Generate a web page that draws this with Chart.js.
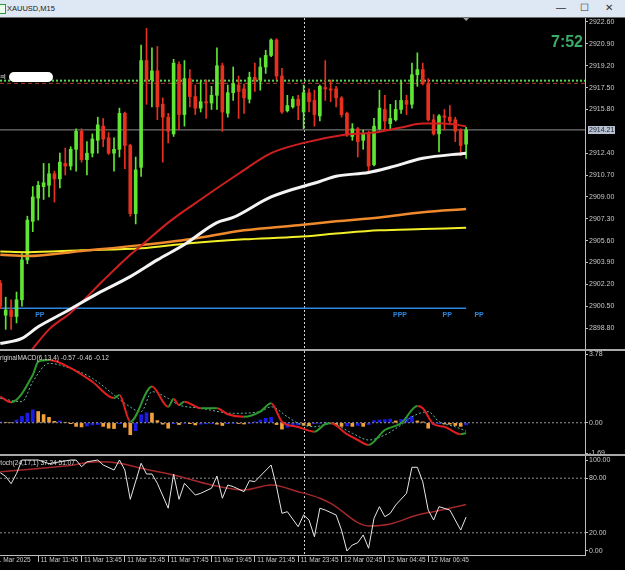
<!DOCTYPE html>
<html>
<head>
<meta charset="utf-8">
<script src="https://cdn.jsdelivr.net/npm/chart.js@4.4.1/dist/chart.umd.min.js"></script>
<style>
  html, body { margin: 0; padding: 0; background: #000; }
  #wrap { position: relative; width: 625px; height: 570px; overflow: hidden; background: #000; }
  #title { position: absolute; left: 0; top: 0; width: 625px; height: 17px; background: #dde8f4;
           font: 7.5px "Liberation Sans", sans-serif; color: #1a1a1a; }
  #title .icon { position: absolute; left: -2px; top: 4px; width: 6px; height: 8px; border: 1px solid #2a9a3a; background: #eaffea; }
  #title .name { position: absolute; left: 7px; top: 4px; }
  #title .btn { position: absolute; top: 2px; font-size: 10px; color: #333; }
  .sep { position: absolute; left: 0; width: 625px; background: #a9a9a9; z-index: 5; }
  canvas { position: absolute; left: 0; }
</style>
</head>
<body>
<div id="wrap">
  <div id="title"><div class="icon"></div><div class="name">XAUUSD,M15</div>
    <div class="btn" style="left:556px">&#8212;</div>
    <div class="btn" style="left:580px">&#9744;</div>
    <div class="btn" style="left:605px">&#10005;</div>
  </div>
  <div class="sep" style="top:17px;height:1px;background:#6f6f6f"></div>
  <canvas id="price" width="625" height="331" style="top:18px"></canvas>
  <div class="sep" style="top:349px;height:2px"></div>
  <canvas id="macd" width="625" height="103" style="top:351px"></canvas>
  <div class="sep" style="top:454px;height:2px"></div>
  <canvas id="stoch" width="625" height="114" style="top:456px"></canvas>
</div>
<script>
// XAUUSD M15, 11 Mar 10:00 .. 12 Mar 08:30 (bar index 0..86)
const opens = [
  2902.3, 2899.8, 2900.2, 2899.7, 2901.0, 2904.1, 2907.1, 2908.9, 2909.8, 2909.9,
  2910.8, 2910.4, 2911.6, 2911.4, 2912.7, 2914.1, 2911.9, 2912.4, 2913.4, 2914.5,
  2913.6, 2912.4, 2912.7, 2915.5, 2913.0, 2907.7, 2911.3, 2919.6, 2918.1, 2918.8,
  2916.2, 2915.2, 2913.9, 2919.3, 2915.4, 2918.2, 2916.8, 2915.9, 2916.4, 2916.3,
  2916.9, 2919.2, 2915.5, 2917.1, 2917.7, 2917.4, 2916.6, 2918.3, 2918.1, 2919.1,
  2920.0, 2921.2, 2918.4, 2915.7, 2916.0, 2916.6, 2915.6, 2917.1, 2916.5, 2915.3,
  2917.5, 2917.4, 2917.4, 2916.7, 2915.5, 2913.7, 2914.3, 2913.4, 2913.9, 2911.5,
  2914.3, 2915.8, 2914.7, 2915.0, 2915.8, 2916.5, 2916.2, 2918.5, 2918.9, 2917.8,
  2915.0, 2913.9, 2915.3, 2915.2, 2915.0, 2914.2, 2913.1
];
const highs = [
  2902.5, 2901.2, 2901.0, 2901.6, 2904.6, 2907.5, 2909.8, 2910.2, 2911.6, 2911.6,
  2911.0, 2912.4, 2912.8, 2912.9, 2914.3, 2914.3, 2913.3, 2913.9, 2915.2, 2915.1,
  2914.0, 2913.6, 2915.9, 2915.6, 2913.1, 2912.1, 2920.8, 2922.1, 2920.6, 2920.7,
  2916.7, 2915.5, 2919.7, 2919.5, 2919.6, 2918.9, 2917.7, 2918.0, 2918.1, 2917.6,
  2920.6, 2919.4, 2917.7, 2919.1, 2918.4, 2917.8, 2918.7, 2919.4, 2919.8, 2920.4,
  2921.3, 2921.3, 2919.0, 2916.9, 2916.8, 2916.9, 2917.7, 2917.4, 2917.3, 2917.7,
  2919.6, 2918.1, 2917.6, 2916.8, 2915.6, 2914.7, 2914.4, 2914.2, 2914.1, 2915.1,
  2917.3, 2916.9, 2916.2, 2916.5, 2918.0, 2916.9, 2919.4, 2920.2, 2919.4, 2918.2,
  2915.4, 2915.4, 2915.8, 2916.1, 2915.2, 2914.3, 2914.4
];
const lows = [
  2900.3, 2898.7, 2898.7, 2899.2, 2900.5, 2903.8, 2906.3, 2907.2, 2908.8, 2909.0,
  2908.6, 2909.7, 2910.7, 2911.1, 2911.0, 2911.7, 2910.7, 2912.1, 2912.4, 2912.9,
  2912.3, 2911.0, 2912.1, 2911.2, 2907.5, 2906.9, 2910.6, 2916.2, 2916.0, 2915.0,
  2911.7, 2913.2, 2913.7, 2914.2, 2914.5, 2916.0, 2915.4, 2915.6, 2915.1, 2915.8,
  2915.8, 2914.1, 2915.2, 2916.5, 2915.1, 2915.5, 2916.3, 2917.2, 2917.3, 2918.6,
  2919.9, 2918.1, 2915.5, 2915.6, 2915.9, 2915.0, 2914.3, 2915.6, 2914.5, 2914.9,
  2916.5, 2916.4, 2916.0, 2915.2, 2913.7, 2913.4, 2912.1, 2912.7, 2910.8, 2911.4,
  2914.2, 2914.2, 2914.2, 2914.9, 2915.5, 2915.4, 2915.9, 2917.6, 2917.7, 2914.9,
  2913.8, 2912.5, 2914.2, 2914.6, 2913.3, 2912.2, 2912.0
];
const closes = [
  2900.5, 2900.2, 2899.7, 2901.0, 2904.1, 2907.2, 2909.0, 2909.9, 2910.1, 2910.8,
  2910.4, 2911.7, 2911.4, 2912.7, 2914.1, 2911.9, 2912.4, 2913.5, 2914.6, 2913.5,
  2912.4, 2912.7, 2915.5, 2913.0, 2907.7, 2911.1, 2919.6, 2918.1, 2918.8, 2916.0,
  2915.2, 2914.1, 2919.4, 2915.4, 2918.2, 2916.8, 2915.9, 2916.4, 2916.3, 2916.9,
  2919.2, 2915.6, 2917.1, 2917.8, 2917.2, 2916.7, 2918.3, 2918.1, 2919.1, 2920.0,
  2921.2, 2918.4, 2915.6, 2916.1, 2916.6, 2916.1, 2917.1, 2916.4, 2915.4, 2917.6,
  2917.4, 2917.3, 2916.7, 2915.4, 2913.8, 2914.3, 2913.3, 2913.9, 2911.4, 2914.5,
  2915.9, 2914.9, 2915.1, 2915.8, 2916.5, 2916.2, 2918.5, 2918.9, 2917.8, 2915.0,
  2913.9, 2915.3, 2915.2, 2914.9, 2914.1, 2913.0, 2914.21
];

// moving averages, read at [bar index, price]
const maRed = [[0, 2894.5], [3, 2895.8], [6, 2897.2], [9, 2898.7], [13, 2900.0], [19, 2902.5], [24, 2904.5],
  [26, 2905.2], [31, 2907.0], [37, 2908.8], [44, 2910.8], [50, 2912.4], [56, 2913.2], [63, 2913.8],
  [69, 2914.0], [74, 2914.4], [78, 2914.7], [82, 2914.7], [86, 2914.5]];
const maWhite = [[0, 2897.6], [4, 2898.0], [7, 2898.9], [12, 2900.05], [18, 2901.5], [24, 2902.8], [29, 2904.1],
  [34, 2905.3], [40, 2907.0], [43, 2907.4], [50, 2909.0], [59, 2910.2], [62, 2910.6], [68, 2910.9],
  [72, 2911.3], [78, 2912.0], [86, 2912.4]];
const maOrange = [[0, 2904.5], [5, 2904.4], [15, 2904.8], [26, 2905.25], [35, 2905.7], [45, 2906.4], [55, 2906.8],
  [62, 2907.1], [70, 2907.4], [78, 2907.8], [86, 2908.05]];
const maYellow = [[0, 2904.75], [5, 2904.7], [15, 2904.85], [26, 2905.0], [35, 2905.4], [45, 2905.7], [55, 2905.9],
  [62, 2906.15], [70, 2906.4], [78, 2906.5], [86, 2906.6]];

// OriginalMACD(6,13,4)
const macdLine = [[0, 1.44], [2, 1.13], [6, 2.63], [7, 3.36], [9, 3.45], [13, 3.01], [17, 2.26], [21, 1.36],
  [22, 1.53], [24, 0.06], [28, 1.99], [31, 0.88], [32, 1.31], [33, 0.98], [34, 1.16], [37, 0.8], [40, 0.8],
  [42, 0.47], [45, 0.33], [48, 0.61], [50, 1.07], [52, 0.06], [55, -0.23], [58, -0.49], [60, -0.07],
  [61, -0.03], [64, -0.63], [66, -0.95], [68, -1.22], [71, -0.4], [74, -0.03], [77, 0.92], [78, 0.8],
  [80, -0.08], [82, -0.22], [85, -0.63], [86, -0.57]];
const macdSignal = [[0, 1.34], [4, 1.16], [6, 2.26], [9, 3.27], [12, 3.09], [17, 2.45], [21, 1.53], [23, 1.07],
  [26, 0.61], [28, 1.71], [31, 1.34], [33, 0.98], [37, 0.8], [43, 0.52], [48, 0.61], [50, 0.88], [53, 0.33],
  [55, -0.03], [58, -0.22], [61, -0.05], [65, -0.58], [68, -0.95], [71, -0.67], [74, -0.12], [76, 0.33],
  [79, 0.61], [81, 0.06], [84, -0.22], [86, -0.46]];
const macdHist = [
  0.05, 0.02, 0.00, 0.15, 0.35, 0.53, 0.71, 0.62, 0.45, 0.30,
  0.08, 0.10, 0.02, -0.05, -0.20, -0.23, -0.18, -0.12, -0.10, -0.20,
  -0.30, -0.32, -0.05, -0.25, -0.66, -0.44, 0.44, 0.55, 0.53, 0.12,
  -0.08, -0.30, -0.05, -0.10, -0.02, -0.05, -0.12, -0.08, -0.06, -0.04,
  -0.08, -0.15, -0.05, -0.02, -0.04, -0.07, -0.02, 0.05, 0.15, 0.25,
  0.30, -0.10, -0.35, -0.25, -0.20, -0.12, -0.14, -0.16, -0.05, -0.02,
  0.02, -0.05, -0.10, -0.20, -0.18, -0.20, -0.15, -0.20, -0.10, 0.12,
  0.15, 0.17, 0.20, 0.10, 0.18, 0.30, 0.35, 0.10, 0.05, -0.30,
  -0.10, -0.05, -0.07, -0.08, -0.15, -0.20, -0.12
];

// Stoch(24,17,1)
const stochK = [[0, 86], [1, 82], [2, 74], [3, 85], [4, 100], [7, 100], [9, 96], [11, 98], [13, 100], [14, 100],
  [15, 92.6], [16, 98], [18, 100], [19, 94.5], [21, 89], [22, 100], [23, 89], [24, 56.8], [26, 96.4],
  [27, 84.6], [28, 84.6], [29, 74.4], [31, 47], [32, 84.6], [33, 56.8], [34, 74.4], [36, 61.5], [37, 63.4],
  [39, 69], [40, 82.4], [41, 58], [42, 72.5], [43, 70.7], [45, 65.2], [46, 77.3], [47, 76.2], [48, 82.4],
  [50, 94.5], [51, 70.7], [52, 41.4], [53, 43.2], [55, 26.7], [56, 39.6], [57, 34], [58, 15.7], [59, 47],
  [60, 45], [62, 39.6], [63, 23], [64, 0], [65, 6.6], [66, 9.1], [67, 17.6], [68, 3], [69, 36], [70, 48.7],
  [71, 37.7], [72, 41.4], [73, 50.5], [75, 63.4], [76, 92], [77, 92], [78, 76], [79, 45], [80, 34],
  [81, 48.7], [83, 45], [85, 23], [86, 37.24]];
const stochD = [[0, 87], [12, 93.4], [18, 98], [22, 96.4], [26, 91], [32, 83.5], [39, 72.5], [45, 67], [50, 72.5],
  [55, 65.2], [59, 58], [61, 52.4], [68, 27.5], [72, 29.7], [77, 39.6], [80, 43.2], [86, 51.07]];

// axes / tick labels
const priceTicks = [2898.8, 2900.5, 2902.2, 2903.9, 2905.6, 2907.3, 2909.0, 2910.7, 2912.4,
  2915.8, 2917.5, 2919.2, 2920.9, 2922.6];
const macdTicks = [-1.69, 0, 3.78];
const stochTicks = [0, 20, 80, 100];
const timeTickIdx = [-1.5, 7, 15, 23, 31, 39, 47, 55, 63, 71, 79];
const timeTickText = ['11 Mar 2025', '11 Mar 11:45', '11 Mar 13:45', '11 Mar 15:45', '11 Mar 17:45',
  '11 Mar 19:45', '11 Mar 21:45', '11 Mar 23:45', '12 Mar 02:45', '12 Mar 04:45', '12 Mar 06:45'];

// levels and labels
const bidPrice = 2914.21;
const pivotLevel = 2900.35;
const greenLevel = 2918.04;
const redLevel = 2917.83;
const pivotTags = [[7.3, 'PP'], [73.8, 'PPP'], [82.5, 'PP'], [88.4, 'PP']];
const daySeparator = 56;
const timeLeft = '7:52';
const macdTitle = 'OriginalMACD(6,13,4) -0.57 -0.46 -0.12';
const stochTitle = 'Stoch(24,17,1) 37.24 51.07';

const xMin = -0.05, xMax = 107.95;
const lastBar = closes.length - 1;
const axisColor = '#bdbdbd';
const font = '"Liberation Sans", sans-serif';

Chart.defaults.font.family = font;
Chart.defaults.color = '#c8c8c8';

function pts(list) { return list.map(p => ({x: p[0], y: p[1]})); }

function lineSet(list, color, width, extra) {
  return Object.assign({
    type: 'line', data: pts(list), borderColor: color, borderWidth: width,
    pointRadius: 0, fill: false, tension: 0.3, cubicInterpolationMode: 'monotone'
  }, extra || {});
}

function levelSet(level, from, to, color, width, dash) {
  return {type: 'line', data: [{x: from, y: level}, {x: to, y: level}], borderColor: color,
    borderWidth: width, borderDash: dash, pointRadius: 0, fill: false};
}

function yAxis(min, max, ticks) {
  return {
    type: 'linear', position: 'right', min: min, max: max,
    afterBuildTicks: ax => { ax.ticks = ticks.map(v => ({value: v})); },
    afterFit: ax => { ax.width = 40; ax.paddingTop = 0; ax.paddingBottom = 0; },
    border: {color: axisColor, width: 1},
    grid: {drawOnChartArea: false, color: axisColor, tickLength: 3},
    ticks: {color: '#c8c8c8', font: {size: 7}, padding: 1, autoSkip: false, callback: v => v.toFixed(2)}
  };
}

// bar datasets would switch the x scale to offset mode, keep it flat
const hiddenX = {type: 'linear', min: xMin, max: xMax, offset: false, grid: {offset: false}, display: false};

const daySep = {
  id: 'daySep',
  beforeDatasetsDraw(chart) {
    const {ctx, chartArea: a, scales: {x}} = chart;
    const px = Math.round(x.getPixelForValue(daySeparator)) + 0.5;
    ctx.save();
    ctx.strokeStyle = '#d0d0d0'; ctx.lineWidth = 1; ctx.setLineDash([2, 2]);
    ctx.beginPath(); ctx.moveTo(px, a.top); ctx.lineTo(px, a.bottom); ctx.stroke();
    ctx.restore();
  }
};

function titlePlugin(text, x0) {
  return {
    id: 'paneTitle',
    afterDraw(chart) {
      const ctx = chart.ctx;
      ctx.save();
      ctx.fillStyle = '#d8d8d8'; ctx.font = '6.5px ' + font;
      ctx.textBaseline = 'middle'; ctx.textAlign = 'left';
      ctx.fillText(text, x0, chart.chartArea.top + 7);
      ctx.restore();
    }
  };
}

const priceExtras = {
  id: 'priceExtras',
  afterDatasetsDraw(chart) {
    const {ctx, chartArea: a, scales: {x, y}} = chart;
    ctx.save();
    // pivot tags under the pivot line
    ctx.fillStyle = '#2f86e0'; ctx.font = 'bold 7px ' + font;
    ctx.textAlign = 'center'; ctx.textBaseline = 'middle';
    const ty = y.getPixelForValue(pivotLevel) + 7;
    pivotTags.forEach(t => ctx.fillText(t[1], x.getPixelForValue(t[0]), ty));
    // bar timer
    ctx.fillStyle = '#3dab68'; ctx.font = 'bold 16px ' + font;
    ctx.textAlign = 'right'; ctx.textBaseline = 'alphabetic';
    ctx.fillText(timeLeft, a.right - 2, 29);
    // hidden (blurred) label top-left
    ctx.fillStyle = '#e8e8e8'; ctx.font = '7px ' + font; ctx.textAlign = 'left'; ctx.textBaseline = 'middle';
    ctx.fillText('\u2261l', 0, 59);
    ctx.fillStyle = '#ffffff';
    ctx.beginPath(); ctx.roundRect(9, 54, 44, 10, 5); ctx.fill();
    ctx.restore();
  },
  afterDraw(chart) {
    const {ctx, chartArea: a, scales: {x, y}} = chart;
    ctx.save();
    // bid price box on the axis
    const by = Math.round(y.getPixelForValue(bidPrice));
    ctx.fillStyle = '#b7c1d1';
    ctx.fillRect(a.right + 3, by - 4, 27, 8);
    ctx.fillStyle = '#1b2230'; ctx.font = '7px ' + font; ctx.textBaseline = 'middle';
    ctx.fillText(bidPrice.toFixed(2), a.right + 4, by);
    // chart shift marker
    const mx = x.getPixelForValue(lastBar);
    ctx.fillStyle = '#9c9c9c';
    ctx.beginPath(); ctx.moveTo(mx - 3, 0); ctx.lineTo(mx + 3, 0); ctx.lineTo(mx, 3); ctx.closePath(); ctx.fill();
    ctx.restore();
  }
};

const upColor = '#5fe634', downColor = '#e8301e';
const candleColor = c => closes[c.dataIndex] >= opens[c.dataIndex] ? upColor : downColor;

new Chart(document.getElementById('price'), {
  type: 'line',
  data: {
    datasets: [
      lineSet(maWhite, '#f4f4f4', 3),
      lineSet(maRed, '#d11f1f', 2),
      lineSet(maOrange, '#ef8a2c', 2.5),
      lineSet(maYellow, '#f2ee28', 2),
      {type: 'bar', data: opens.map((o, i) => ({x: i, y: [o, closes[i]]})), backgroundColor: candleColor,
        barThickness: 3, minBarLength: 1, grouped: false},
      {type: 'bar', data: lows.map((l, i) => ({x: i, y: [l, highs[i]]})), backgroundColor: candleColor,
        barThickness: 1, grouped: false},
      levelSet(bidPrice, xMin, xMax, '#8e8e8e', 1, []),
      levelSet(greenLevel, xMin, xMax, '#55d855', 2, [2, 2]),
      levelSet(redLevel, xMin, xMax, '#b03a2a', 1, [4, 3]),
      levelSet(pivotLevel, xMin, lastBar, '#2f86e0', 1.5, [])
    ]
  },
  options: {
    responsive: false, animation: false, events: [],
    layout: {padding: 0},
    plugins: {legend: {display: false}, tooltip: {enabled: false}},
    scales: {x: hiddenX, y: yAxis(2897.172, 2922.911, priceTicks)}
  },
  plugins: [daySep, priceExtras]
});

new Chart(document.getElementById('macd'), {
  type: 'line',
  data: {
    datasets: [
      lineSet(macdLine, '#e02020', 2, {tension: 0.2, segment: {
        borderColor: c => c.p1.parsed.y >= c.p0.parsed.y ? '#2f9a2f' : '#e02020'}}),
      lineSet(macdSignal, '#62b8a0', 1, {borderDash: [2, 2]}),
      levelSet(0, xMin, xMax, '#9a9a9a', 1, [2, 2]),
      {type: 'bar', data: macdHist.map((v, i) => ({x: i, y: v})), barThickness: 3, grouped: false,
        backgroundColor: c => c.dataIndex > 0 && macdHist[c.dataIndex] < macdHist[c.dataIndex - 1] ? '#f2a03a' : '#1c1ce6'}
    ]
  },
  options: {
    responsive: false, animation: false, events: [],
    layout: {padding: 0},
    plugins: {legend: {display: false}, tooltip: {enabled: false}},
    scales: {x: hiddenX, y: yAxis(-1.72, 3.95, macdTicks)}
  },
  plugins: [daySep, titlePlugin(macdTitle, -5)]
});

new Chart(document.getElementById('stoch'), {
  type: 'line',
  data: {
    datasets: [
      lineSet(stochK, '#e6e6e6', 1, {tension: 0, cubicInterpolationMode: 'default'}),
      lineSet(stochD, '#a3282a', 1.5),
      levelSet(80, xMin, xMax, '#8a8a8a', 1, [2, 2]),
      levelSet(20, xMin, xMax, '#8a8a8a', 1, [2, 2])
    ]
  },
  options: {
    responsive: false, animation: false, events: [],
    layout: {padding: 0},
    plugins: {legend: {display: false}, tooltip: {enabled: false}},
    scales: {
      x: {
        type: 'linear', min: xMin, max: xMax,
        afterBuildTicks: ax => { ax.ticks = timeTickIdx.map(v => ({value: v})); },
        afterFit: ax => { ax.height = 15; ax.paddingLeft = 0; ax.paddingRight = 0; },
        border: {color: axisColor, width: 1},
        grid: {drawOnChartArea: false, color: axisColor, tickLength: 7},
        ticks: {color: '#c8c8c8', font: {size: 6.5}, padding: -6, align: 'start', labelOffset: 2.5,
          maxRotation: 0, autoSkip: false, callback: (v, i) => timeTickText[i]}
      },
      y: yAxis(-4.4, 104.4, stochTicks)
    }
  },
  plugins: [daySep, titlePlugin(stochTitle, -4)]
});
</script>
</body>
</html>
